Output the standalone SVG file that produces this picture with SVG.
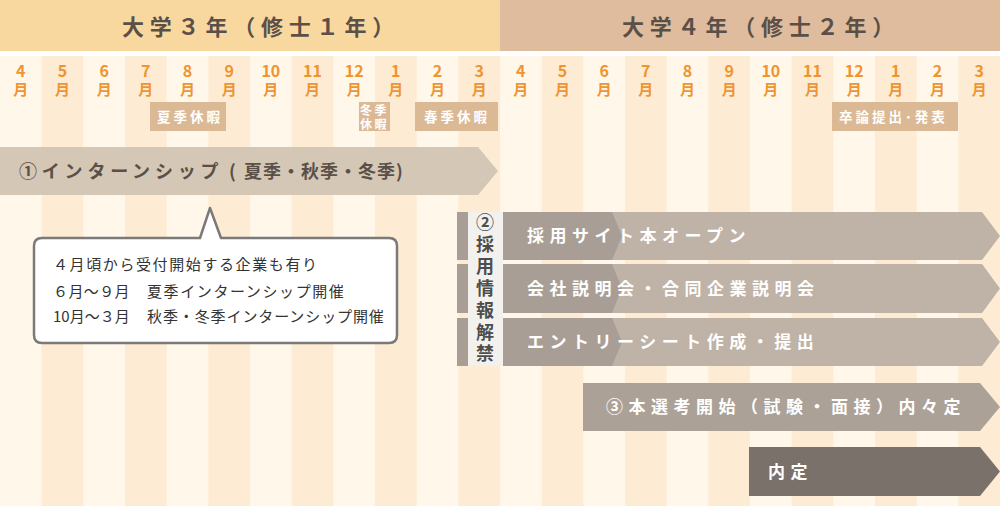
<svg xmlns="http://www.w3.org/2000/svg" width="1000" height="506" viewBox="0 0 1000 506">
<style>
text{font-family:"Noto Sans CJK JP","Noto Sans",sans-serif;}
.hd{font-size:22px;font-weight:700;fill:#5b5048;letter-spacing:5.8px;}
.mo{font-weight:700;fill:#ef9430;text-anchor:middle;}
.mn{font-size:16px;}
.mj{font-size:15px;}
.vac{fill:#dbb995;}
.vt{font-size:13.5px;font-weight:700;fill:#fff;letter-spacing:3px;}
.vt2{font-size:12px;font-weight:700;fill:#fff;letter-spacing:2.5px;}
.it{font-size:18px;font-weight:700;fill:#5b5048;}
.rt{font-size:17px;font-weight:700;fill:#fff;letter-spacing:5.5px;}
.ct{font-size:15px;fill:#333;letter-spacing:1.6px;}
.lb{font-size:18px;font-weight:700;fill:#4d4d4d;text-anchor:middle;}
.dk{fill:#fdebd3;}
</style>
<rect x="0" y="0" width="1000" height="506" fill="#ffffff"/>
<g id="background">
<rect x="0" y="56" width="1000" height="450" fill="#fff7e9"/>
<rect class="dk" x="41.667" y="56" width="41.667" height="450"/>
<rect class="dk" x="125" y="56" width="41.667" height="450"/>
<rect class="dk" x="208.333" y="56" width="41.667" height="450"/>
<rect class="dk" x="291.667" y="56" width="41.667" height="450"/>
<rect class="dk" x="375" y="56" width="41.667" height="450"/>
<rect class="dk" x="458.333" y="56" width="41.667" height="450"/>
<rect class="dk" x="541.667" y="56" width="41.667" height="450"/>
<rect class="dk" x="625" y="56" width="41.667" height="450"/>
<rect class="dk" x="708.333" y="56" width="41.667" height="450"/>
<rect class="dk" x="791.667" y="56" width="41.667" height="450"/>
<rect class="dk" x="875" y="56" width="41.667" height="450"/>
<rect class="dk" x="958.333" y="56" width="41.667" height="450"/>
</g>
<g id="header-year3">
<rect x="0" y="0" width="500" height="51" fill="#f9d8a0"/>
<text class="hd" x="122" y="35">大学３年（修士１年）</text>
</g>
<g id="header-year4">
<rect x="500" y="0" width="500" height="51" fill="#dfbc9d"/>
<text class="hd" x="622" y="35">大学４年（修士２年）</text>
</g>
<g id="months">
<text class="mo" x="20.83" y="77"><tspan class="mn">4</tspan><tspan class="mj" x="20.83" y="95">月</tspan></text>
<text class="mo" x="62.5" y="77"><tspan class="mn">5</tspan><tspan class="mj" x="62.5" y="95">月</tspan></text>
<text class="mo" x="104.17" y="77"><tspan class="mn">6</tspan><tspan class="mj" x="104.17" y="95">月</tspan></text>
<text class="mo" x="145.83" y="77"><tspan class="mn">7</tspan><tspan class="mj" x="145.83" y="95">月</tspan></text>
<text class="mo" x="187.5" y="77"><tspan class="mn">8</tspan><tspan class="mj" x="187.5" y="95">月</tspan></text>
<text class="mo" x="229.17" y="77"><tspan class="mn">9</tspan><tspan class="mj" x="229.17" y="95">月</tspan></text>
<text class="mo" x="270.83" y="77"><tspan class="mn">10</tspan><tspan class="mj" x="270.83" y="95">月</tspan></text>
<text class="mo" x="312.5" y="77"><tspan class="mn">11</tspan><tspan class="mj" x="312.5" y="95">月</tspan></text>
<text class="mo" x="354.17" y="77"><tspan class="mn">12</tspan><tspan class="mj" x="354.17" y="95">月</tspan></text>
<text class="mo" x="395.83" y="77"><tspan class="mn">1</tspan><tspan class="mj" x="395.83" y="95">月</tspan></text>
<text class="mo" x="437.5" y="77"><tspan class="mn">2</tspan><tspan class="mj" x="437.5" y="95">月</tspan></text>
<text class="mo" x="479.17" y="77"><tspan class="mn">3</tspan><tspan class="mj" x="479.17" y="95">月</tspan></text>
<text class="mo" x="520.83" y="77"><tspan class="mn">4</tspan><tspan class="mj" x="520.83" y="95">月</tspan></text>
<text class="mo" x="562.5" y="77"><tspan class="mn">5</tspan><tspan class="mj" x="562.5" y="95">月</tspan></text>
<text class="mo" x="604.17" y="77"><tspan class="mn">6</tspan><tspan class="mj" x="604.17" y="95">月</tspan></text>
<text class="mo" x="645.83" y="77"><tspan class="mn">7</tspan><tspan class="mj" x="645.83" y="95">月</tspan></text>
<text class="mo" x="687.5" y="77"><tspan class="mn">8</tspan><tspan class="mj" x="687.5" y="95">月</tspan></text>
<text class="mo" x="729.17" y="77"><tspan class="mn">9</tspan><tspan class="mj" x="729.17" y="95">月</tspan></text>
<text class="mo" x="770.83" y="77"><tspan class="mn">10</tspan><tspan class="mj" x="770.83" y="95">月</tspan></text>
<text class="mo" x="812.5" y="77"><tspan class="mn">11</tspan><tspan class="mj" x="812.5" y="95">月</tspan></text>
<text class="mo" x="854.17" y="77"><tspan class="mn">12</tspan><tspan class="mj" x="854.17" y="95">月</tspan></text>
<text class="mo" x="895.83" y="77"><tspan class="mn">1</tspan><tspan class="mj" x="895.83" y="95">月</tspan></text>
<text class="mo" x="937.5" y="77"><tspan class="mn">2</tspan><tspan class="mj" x="937.5" y="95">月</tspan></text>
<text class="mo" x="979.17" y="77"><tspan class="mn">3</tspan><tspan class="mj" x="979.17" y="95">月</tspan></text>
</g>
<g id="summer-vacation">
<rect class="vac" x="150" y="102" width="76" height="29"/>
<text class="vt" x="157" y="122">夏季休暇</text>
</g>
<g id="winter-vacation">
<rect class="vac" x="359" y="102" width="31" height="29"/>
<text class="vt2" x="360" y="114.5">冬季<tspan x="360" y="128.5">休暇</tspan></text>
</g>
<g id="spring-vacation">
<rect class="vac" x="415" y="102" width="83" height="29"/>
<text class="vt" x="424" y="122">春季休暇</text>
</g>
<g id="thesis">
<rect class="vac" x="832" y="102" width="126" height="29"/>
<text class="vt" x="839" y="122">卒論提出･発表</text>
</g>
<g id="internship">
<polygon points="0,147 478,147 498,171 478,195 0,195" fill="#d4c7b5"/>
<text class="it" x="19" y="178"><tspan letter-spacing="4.8">①インターンシップ</tspan><tspan x="229">(</tspan><tspan x="244" letter-spacing="1">夏季・秋季・冬季</tspan><tspan x="396">)</tspan></text>
</g>
<g id="callout">
<path d="M42,238 H200 L210,208 L221,238 H389 Q397,238 397,246 V335 Q397,343 389,343 H42 Q34,343 34,335 V246 Q34,238 42,238 Z" fill="#ffffff" stroke="#7a7a7a" stroke-width="2.5" stroke-linejoin="round"/>
<text class="ct" x="53" y="270">４月頃から受付開始する企業も有り</text>
<text class="ct" x="53" y="297"><tspan letter-spacing="0.4">６月～９月</tspan><tspan x="147">夏季インターンシップ開催</tspan></text>
<text class="ct" x="53" y="322"><tspan letter-spacing="0">10月～３月</tspan><tspan x="147" letter-spacing="0.9">秋季・冬季インターンシップ開催</tspan></text>
</g>
<g id="recruit-label">
<rect x="457" y="212" width="11" height="48" fill="#a99e95"/>
<rect x="457" y="264" width="11" height="49" fill="#a99e95"/>
<rect x="457" y="318" width="11" height="48" fill="#a99e95"/>
<rect x="468" y="212" width="35" height="154" fill="#f3f1ee"/>
<text class="lb" x="485" y="229">②<tspan x="485" y="251">採</tspan><tspan x="485" y="273">用</tspan><tspan x="485" y="295">情</tspan><tspan x="485" y="317">報</tspan><tspan x="485" y="339">解</tspan><tspan x="485" y="360">禁</tspan></text>
</g>
<g id="connectors">
<g id="site-open">
<polygon points="503,212 982,212 1000,236 982,260 503,260" fill="#bfb2a6"/>
<polygon points="503,212 612,212 622,236 612,260 503,260" fill="#a99e95"/>
<text class="rt" x="527" y="242">採用サイト本オープン</text>
</g>
<g id="seminar">
<polygon points="503,264 982,264 1000,288.5 982,313 503,313" fill="#bfb2a6"/>
<polygon points="503,264 612,264 622,288.5 612,313 503,313" fill="#a99e95"/>
<text class="rt" x="527" y="294.5">会社説明会・合同企業説明会</text>
</g>
<g id="entry-sheet">
<polygon points="503,318 982,318 1000,342 982,366 503,366" fill="#bfb2a6"/>
<polygon points="503,318 612,318 622,342 612,366 503,366" fill="#a99e95"/>
<text class="rt" x="527" y="348">エントリーシート作成・提出</text>
</g>
<g id="selection">
<polygon points="583,383 980,383 1000,407 980,431 583,431" fill="#aca197"/>
<text class="rt" x="606" y="413" letter-spacing="5.8">③本選考開始（試験・面接）内々定</text>
</g>
<g id="offer">
<polygon points="749,447 980,447 1000,471.5 980,496 749,496" fill="#7b716b"/>
<text class="rt" x="768" y="477.5" letter-spacing="6">内定</text>
</g>
</g>
</svg>
